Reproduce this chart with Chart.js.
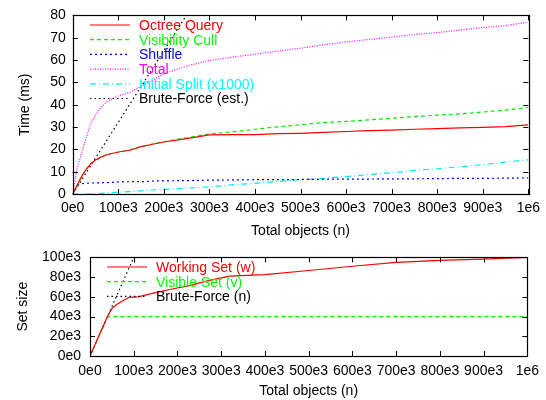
<!DOCTYPE html>
<html>
<head>
<meta charset="utf-8">
<script src="https://cdn.jsdelivr.net/npm/chart.js@4/dist/chart.umd.min.js"></script>
<style>
  body { margin: 0; background: #fff; }
  canvas { display: block; }
</style>
</head>
<body>
<canvas id="timeChart" width="546" height="240"></canvas>
<canvas id="setChart" width="546" height="160"></canvas>
<script>
// Total objects, in thousands (top plot)
const nTop = [0, 10, 20, 30, 40, 50, 60, 75, 100, 125, 150, 175, 200, 250, 300, 350, 400, 450, 500,
              550, 600, 650, 700, 750, 800, 850, 900, 950, 1000];
const octreeQuery = [0, 4.0, 8.0, 11.2, 13.6, 15.2, 16.3, 17.6, 18.8, 19.6, 21.2, 22.3, 23.3, 24.8, 26.5,
                     26.6, 26.6, 27.0, 27.2, 27.6, 28.0, 28.4, 28.6, 29.0, 29.3, 29.6, 29.8, 30.2, 31.0];
const visibilityCull = [0, 4.0, 8.0, 11.2, 13.7, 15.0, 16.2, 17.8, 18.7, 19.8, 21.1, 22.4, 23.4, 25.2, 26.9,
                        27.8, 29.0, 30.1, 31.0, 32.0, 32.5, 33.2, 33.9, 34.7, 35.3, 35.9, 36.7, 37.6, 38.8];
const shuffle = [0, 4.0, 4.6, 4.8, 4.9, 5.0, 5.0, 5.1, 5.4, 5.5, 5.5, 5.8, 5.9, 6.0, 6.2,
                 6.3, 6.4, 6.4, 6.5, 6.6, 6.7, 6.7, 6.8, 6.8, 6.9, 7.0, 7.0, 7.1, 7.2];
const total = [0, 12.0, 18.5, 25.5, 31.8, 35.3, 38.2, 41.5, 43.9, 45.5, 48.2, 51.0, 53.9, 57.3, 59.8,
               61.3, 62.6, 64.0, 65.3, 66.8, 68.1, 69.2, 70.3, 71.4, 72.3, 73.4, 74.6, 75.4, 77.0];
const initialSplit = [0, 0, 0, 0, 0.1, 0.2, 0.3, 0.5, 0.8, 1.1, 1.4, 1.8, 2.1, 2.6, 3.2,
                      4.1, 4.8, 5.6, 6.3, 7.0, 7.8, 8.7, 9.5, 10.6, 11.3, 12.2, 13.1, 14.3, 15.3];
const nBruteTop = [0, 1000];
const bruteForceTime = [0, 321];

// Set sizes, in thousands (bottom plot)
const nWorking = [0, 20, 40, 50, 60, 75, 90, 110, 140, 185, 230, 275, 320, 400, 500, 600, 700, 800, 900, 1000];
const workingSet = [0, 20, 40, 48, 52, 56, 59.5, 60, 63.3, 67.7, 71.7, 77, 81, 82.5, 86.7, 91, 95, 96.9, 98.3, 100];
const nVisible = [0, 40, 1000];
const visibleSet = [0, 40, 40];
const nBruteSet = [0, 1000];
const bruteForceSet = [0, 1000];

const timeTicks = [0, 10, 20, 30, 40, 50, 60, 70, 80];
const setTicks = [0, 20, 40, 60, 80, 100];

Chart.defaults.font.family = '"Liberation Sans", Arial, sans-serif';
Chart.defaults.font.size = 14;
Chart.defaults.color = '#000';

const pts = (xs, ys) => xs.map((x, i) => ({ x: x, y: ys[i] }));
const nLabel = v => v === 0 ? '0e0' : (v === 1000 ? '1e6' : v + 'e3');
const setLabel = v => v === 0 ? '0e0' : v + 'e3';

// gnuplot-like frame with inward ticks on all four sides
const framePlugin = {
    id: 'frame',
    afterDraw(chart) {
        const { ctx, chartArea: a, scales } = chart;
        const len = 5;
        ctx.save();
        ctx.strokeStyle = '#000';
        ctx.lineWidth = 1;
        ctx.beginPath();
        scales.x.ticks.forEach(t => {
            const px = Math.round(scales.x.getPixelForValue(t.value)) + 0.5;
            ctx.moveTo(px, a.bottom); ctx.lineTo(px, a.bottom - len);
            ctx.moveTo(px, a.top); ctx.lineTo(px, a.top + len);
        });
        scales.y.ticks.forEach(t => {
            const py = Math.round(scales.y.getPixelForValue(t.value)) + 0.5;
            ctx.moveTo(a.left, py); ctx.lineTo(a.left + len, py);
            ctx.moveTo(a.right, py); ctx.lineTo(a.right - len, py);
        });
        ctx.stroke();
        ctx.lineWidth = 1.2;
        ctx.strokeRect(Math.round(a.left) + 0.5, Math.round(a.top) + 0.5,
                       Math.round(a.right - a.left), Math.round(a.bottom - a.top));
        ctx.restore();
    }
};

// key inside the plot: sample line, then label in the line colour
const keyPlugin = {
    id: 'key',
    afterDatasetsDraw(chart, args, opts) {
        const { ctx } = chart;
        ctx.save();
        ctx.font = '14px "Liberation Sans", Arial, sans-serif';
        ctx.textBaseline = 'middle';
        chart.data.datasets.forEach((ds, i) => {
            const y = opts.y + i * opts.step;
            ctx.strokeStyle = ds.borderColor;
            ctx.lineWidth = ds.borderWidth;
            ctx.setLineDash(ds.borderDash || []);
            ctx.beginPath();
            ctx.moveTo(opts.x1, y);
            ctx.lineTo(opts.x2, y);
            ctx.stroke();
            ctx.fillStyle = ds.keyColor || ds.borderColor;
            ctx.fillText(ds.label, opts.tx, y + 1);
        });
        ctx.restore();
    }
};

function lineSet(label, data, color, dash, keyColor) {
    return {
        label: label,
        data: data,
        borderColor: color,
        keyColor: keyColor,
        borderWidth: 1.2,
        borderDash: dash,
        pointRadius: 0,
        tension: 0,
        fill: false
    };
}

function axes(yMax, yTicks, yFmt, yTitle, yWidth, yTitlePad, yTickPad, xHeight, xTickPad) {
    return {
        x: {
            type: 'linear', min: 0, max: 1000,
            grid: { display: false, drawTicks: false },
            border: { display: false },
            ticks: { stepSize: 100, padding: xTickPad, maxRotation: 0, autoSkip: false, callback: nLabel },
            title: { display: true, text: 'Total objects (n)', padding: 0 },
            afterFit: s => { s.height = xHeight; }
        },
        y: {
            type: 'linear', min: 0, max: yMax,
            grid: { display: false, drawTicks: false },
            border: { display: false },
            afterBuildTicks: s => { s.ticks = yTicks.map(v => ({ value: v })); },
            ticks: { padding: yTickPad, autoSkip: false, callback: yFmt },
            title: { display: true, text: yTitle, padding: { top: yTitlePad, bottom: 0 } },
            afterFit: s => { s.width = yWidth; }
        }
    };
}

new Chart(document.getElementById('timeChart'), {
    type: 'line',
    data: {
        datasets: [
            lineSet('Octree Query', pts(nTop, octreeQuery), '#ff0000', []),
            lineSet('Visibility Cull', pts(nTop, visibilityCull), '#00ee00', [4, 3], '#00ff00'),
            lineSet('Shuffle', pts(nTop, shuffle), '#0000ff', [2, 3]),
            lineSet('Total', pts(nTop, total), '#ff00ff', [1, 1.5]),
            lineSet('Initial Split (x1000)', pts(nTop, initialSplit), '#00eeee', [6, 3, 1, 3], '#00ffff'),
            lineSet('Brute-Force (est.)', pts(nBruteTop, bruteForceTime), '#000000', [1.5, 3])
        ]
    },
    options: {
        responsive: false,
        animation: false,
        layout: { padding: { top: 13, right: 15, left: 0, bottom: 0 } },
        plugins: {
            legend: { display: false },
            tooltip: { enabled: false },
            key: { x1: 90, x2: 130, tx: 139, y: 25, step: 14.7 }
        },
        scales: axes(80, timeTicks, v => v, 'Time (ms)', 72.7, 16.6, 7, 46, 6)
    },
    plugins: [framePlugin, keyPlugin]
});

new Chart(document.getElementById('setChart'), {
    type: 'line',
    data: {
        datasets: [
            lineSet('Working Set (w)', pts(nWorking, workingSet), '#ff0000', []),
            lineSet('Visible Set (v)', pts(nVisible, visibleSet), '#00ee00', [4, 3], '#00ff00'),
            lineSet('Brute-Force (n)', pts(nBruteSet, bruteForceSet), '#000000', [1.5, 3])
        ]
    },
    options: {
        responsive: false,
        animation: false,
        layout: { padding: { top: 16, right: 16, left: 0, bottom: 0 } },
        plugins: {
            legend: { display: false },
            tooltip: { enabled: false },
            key: { x1: 107, x2: 147, tx: 156, y: 27, step: 14.7 }
        },
        scales: axes(100, setTicks, setLabel, 'Set size', 90, 14.3, 9, 44, 7)
    },
    plugins: [framePlugin, keyPlugin]
});
</script>
</body>
</html>
